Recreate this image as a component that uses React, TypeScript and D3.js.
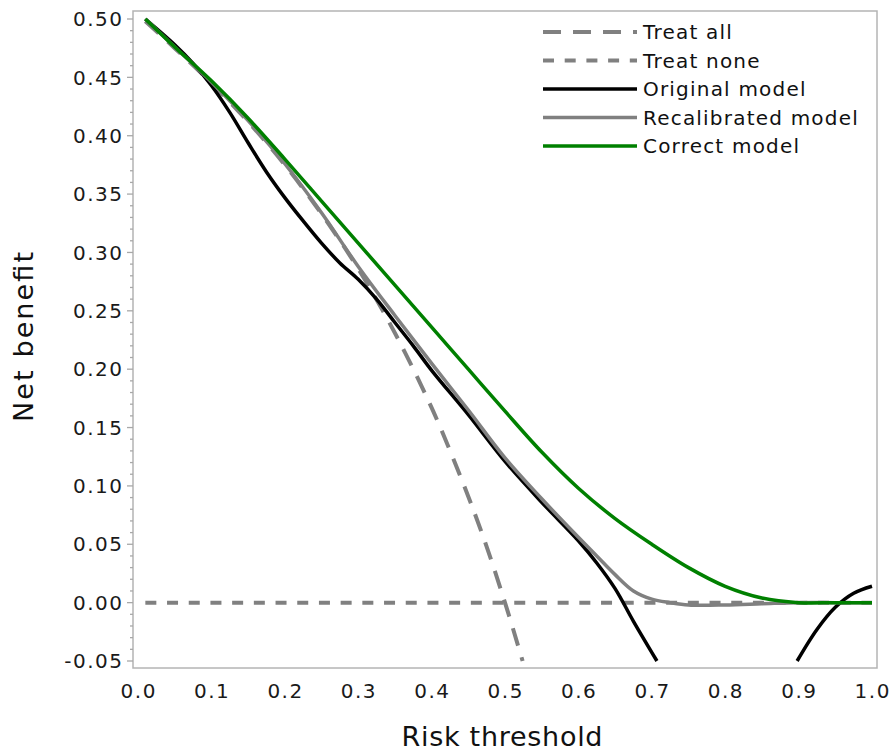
import React, { useMemo } from 'react';
import * as d3 from 'd3';

const WIDTH = 894;
const HEIGHT = 756;
// plot frame
const FRAME = { left: 133, top: 11, right: 877, bottom: 668 };
// where the axis domains sit inside the frame
const X_RANGE = [138, 872];
const Y_RANGE = [661, 19];
const FONT = "'DejaVu Sans', Verdana, sans-serif";

const xTicks = [0, 0.1, 0.2, 0.3, 0.4, 0.5, 0.6, 0.7, 0.8, 0.9, 1.0];
const xTickLabels = ['0.0', '0.1', '0.2', '0.3', '0.4', '0.5', '0.6', '0.7', '0.8', '0.9', '1.0'];
const yTicks = [-0.05, 0, 0.05, 0.1, 0.15, 0.2, 0.25, 0.3, 0.35, 0.4, 0.45, 0.5];
const yTickLabels = ['-0.05', '0.00', '0.05', '0.10', '0.15', '0.20', '0.25', '0.30', '0.35', '0.40', '0.45', '0.50'];

// Treat all
const treatAllT = [0.01, 0.05, 0.1, 0.15, 0.2, 0.25, 0.3, 0.35, 0.4, 0.44, 0.47, 0.5, 0.524];
const treatAllNB = [0.498, 0.475, 0.445, 0.412, 0.375, 0.333, 0.286, 0.231, 0.167, 0.107, 0.057, 0.0, -0.05];

// Treat none
const treatNoneT = [0.01, 1.0];
const treatNoneNB = [0, 0];

// Original model (null = leaves the plot below -0.05)
const originalT = [0.01, 0.05, 0.075, 0.1, 0.125, 0.15, 0.175, 0.2, 0.225, 0.25, 0.275, 0.3, 0.325, 0.35, 0.375, 0.4, 0.45, 0.5, 0.55, 0.6, 0.625, 0.65, 0.675, 0.707, 0.8, 0.898, 0.925, 0.95, 0.975, 1.0];
const originalNB = [0.5, 0.478, 0.462, 0.443, 0.42, 0.394, 0.369, 0.347, 0.327, 0.308, 0.291, 0.277, 0.26, 0.24, 0.22, 0.199, 0.161, 0.121, 0.086, 0.053, 0.034, 0.012, -0.016, -0.05, null, -0.05, -0.023, -0.004, 0.008, 0.014];

// Recalibrated model
const recalT = [0.01, 0.05, 0.1, 0.15, 0.2, 0.25, 0.3, 0.35, 0.4, 0.45, 0.5, 0.55, 0.6, 0.625, 0.65, 0.675, 0.7, 0.725, 0.75, 0.8, 0.85, 0.9, 0.95, 1.0];
const recalNB = [0.5, 0.476, 0.446, 0.413, 0.376, 0.334, 0.288, 0.246, 0.205, 0.165, 0.124, 0.089, 0.056, 0.04, 0.024, 0.01, 0.003, 0.0, -0.002, -0.002, -0.001, 0.0, 0.0, 0.0];

// Correct model
const correctT = [0.01, 0.05, 0.1, 0.15, 0.2, 0.25, 0.3, 0.35, 0.4, 0.45, 0.5, 0.55, 0.6, 0.65, 0.7, 0.75, 0.8, 0.85, 0.9, 0.95, 1.0];
const correctNB = [0.5, 0.476, 0.447, 0.415, 0.38, 0.344, 0.308, 0.272, 0.236, 0.2, 0.164, 0.129, 0.098, 0.072, 0.05, 0.03, 0.014, 0.004, 0.0, 0.0, 0.0];

type Series = {
  name: string;
  t: number[];
  nb: (number | null)[];
  color: string;
  width: number;
  dash?: string;
};

const SERIES: Series[] = [
  { name: 'Treat all', t: treatAllT, nb: treatAllNB, color: '#808080', width: 4, dash: '18 12' },
  { name: 'Treat none', t: treatNoneT, nb: treatNoneNB, color: '#808080', width: 4, dash: '11 10.7' },
  { name: 'Original model', t: originalT, nb: originalNB, color: '#000000', width: 3.5 },
  { name: 'Recalibrated model', t: recalT, nb: recalNB, color: '#808080', width: 3.5 },
  { name: 'Correct model', t: correctT, nb: correctNB, color: '#008000', width: 3.5 },
];

const App = () => {
  const xScale = useMemo(() => d3.scaleLinear().domain([0, 1]).range(X_RANGE), []);
  const yScale = useMemo(() => d3.scaleLinear().domain([-0.05, 0.5]).range(Y_RANGE), []);

  const minorTicks = d3.range(-5, 51).map((i) => i / 100).filter((v) => Math.round(v * 100) % 5 !== 0);

  const lineGen = d3
    .line<[number, number | null]>()
    .defined((d) => d[1] !== null)
    .x((d) => xScale(d[0]))
    .y((d) => yScale(d[1] as number))
    .curve(d3.curveCatmullRom.alpha(0.5));

  const paths = SERIES.map((s) => {
    const pts = s.t.map((t, i) => [t, s.nb[i]] as [number, number | null]);
    return (
      <path
        key={s.name}
        d={lineGen(pts) || ''}
        fill="none"
        stroke={s.color}
        strokeWidth={s.width}
        strokeDasharray={s.dash}
        strokeLinejoin="round"
      />
    );
  });

  return (
    <svg
      width={WIDTH}
      height={HEIGHT}
      style={{ position: 'absolute', left: 0, top: 0, background: '#fff' }}
      fontFamily={FONT}
    >
      <defs>
        <clipPath id="plot-clip">
          <rect x={FRAME.left} y={FRAME.top} width={FRAME.right - FRAME.left} height={FRAME.bottom - FRAME.top} />
        </clipPath>
      </defs>

      <rect
        x={FRAME.left}
        y={FRAME.top}
        width={FRAME.right - FRAME.left}
        height={FRAME.bottom - FRAME.top}
        fill="#fff"
        stroke="#b4b4b4"
        strokeWidth={1.5}
      />

      {/* y axis ticks */}
      {yTicks.map((v, i) => (
        <g key={'y' + i} transform={`translate(0,${yScale(v)})`}>
          <line x1={FRAME.left - 6} x2={FRAME.left} stroke="#a8a8a8" strokeWidth={1.3} />
          <text x={123.5} dy="0.36em" textAnchor="end" fontSize={20} letterSpacing={1.5} fill="#1a1a1a">
            {yTickLabels[i]}
          </text>
        </g>
      ))}
      {minorTicks.map((v, i) => (
        <line
          key={'m' + i}
          x1={FRAME.left - 3}
          x2={FRAME.left}
          y1={yScale(v)}
          y2={yScale(v)}
          stroke="#a8a8a8"
          strokeWidth={1.3}
        />
      ))}

      {/* x axis labels */}
      {xTicks.map((v, i) => (
        <text key={'x' + i} x={xScale(v) + 0.75} y={698} textAnchor="middle" fontSize={20} letterSpacing={1.5} fill="#1a1a1a">
          {xTickLabels[i]}
        </text>
      ))}

      <g clipPath="url(#plot-clip)">{paths}</g>

      {/* legend */}
      {SERIES.map((s, i) => {
        const y = 32 + i * 28.5;
        return (
          <g key={'l' + i}>
            <line x1={543} x2={637} y1={y} y2={y} stroke={s.color} strokeWidth={s.width} strokeDasharray={s.dash} />
            <text x={643} y={y} dy="0.36em" fontSize={20} letterSpacing={1.2} fill="#111">
              {s.name}
            </text>
          </g>
        );
      })}

      {/* axis titles */}
      <text x={502} y={746} textAnchor="middle" fontSize={27} textLength={201} lengthAdjust="spacing" fill="#111">
        Risk threshold
      </text>
      <text
        transform="translate(33,337) rotate(-90)"
        textAnchor="middle"
        fontSize={27}
        textLength={170}
        lengthAdjust="spacing"
        fill="#111"
      >
        Net benefit
      </text>
    </svg>
  );
};

export default App;
